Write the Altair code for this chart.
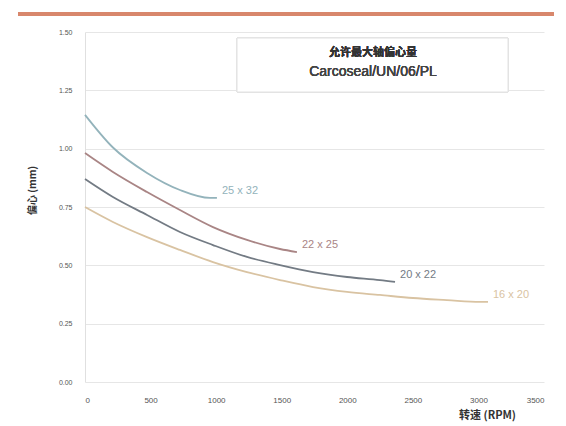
import altair as alt
import pandas as pd

series = ["25 x 32", "22 x 25", "20 x 22", "16 x 20"]
rpm_25x32 = [0, 213, 473, 724, 953, 1006]
ecc_25x32 = [1.145, 1.005, 0.896, 0.823, 0.789, 0.789]
rpm_22x25 = [0, 213, 473, 724, 976, 1235, 1487, 1616]
ecc_22x25 = [0.981, 0.90, 0.814, 0.737, 0.664, 0.609, 0.570, 0.557]
rpm_20x22 = [0, 213, 473, 724, 976, 1235, 1487, 1739, 1998, 2249, 2364]
ecc_20x22 = [0.870, 0.793, 0.716, 0.643, 0.587, 0.536, 0.501, 0.471, 0.450, 0.437, 0.429]
rpm_16x20 = [0, 213, 473, 724, 976, 1235, 1487, 1739, 1998, 2249, 2501, 2760, 3012, 3073]
ecc_16x20 = [0.750, 0.686, 0.621, 0.566, 0.514, 0.471, 0.437, 0.407, 0.386, 0.373, 0.360, 0.351, 0.343, 0.343]
line_colors = ["#93b3bb", "#a98585", "#737b84", "#d9c3a2"]
label_colors = ["#5c9fb6", "#c57a92", "#555555", "#5ea3b3"]
x_ticks = [0, 500, 1000, 1500, 2000, 2500, 3000, 3500]
y_ticks = [0, 0.25, 0.5, 0.75, 1.0, 1.25, 1.5]
title_cn = "允许最大轴偏心量"
title_en = "Carcoseal/UN/06/PL"

rows = []
for name, xs, ys in zip(series,
                        [rpm_25x32, rpm_22x25, rpm_20x22, rpm_16x20],
                        [ecc_25x32, ecc_22x25, ecc_20x22, ecc_16x20]):
    for i, (a, b) in enumerate(zip(xs, ys)):
        rows.append({"series": name, "rpm": a, "ecc": b, "last": i == len(xs) - 1})
df = pd.DataFrame(rows)
df_last = df[df["last"]]

W, H = 459, 350
FONT = "Liberation Sans"

xenc = alt.X("rpm:Q", scale=alt.Scale(domain=[0, 3500], nice=False),
             axis=alt.Axis(values=x_ticks, format="d", grid=False, domain=False, ticks=False,
                           labelPadding=14, labelFontSize=8, labelColor="#555",
                           labelFont=FONT, title="转速 (RPM)", titleFont="Noto Sans CJK SC",
                           titleFontSize=11, titleFontWeight="bold", titleColor="#333",
                           titleX=402, titleY=33, titleBaseline="middle"))
yenc = alt.Y("ecc:Q", scale=alt.Scale(domain=[0, 1.5], nice=False),
             axis=alt.Axis(values=y_ticks, format=".2f", grid=True, gridColor="#e6e6e6",
                           domain=True, domainColor="#e0e0e0", ticks=False,
                           labelPadding=13, labelFontSize=7, labelColor="#555",
                           labelFont=FONT, title="偏心 (mm)", titleFont="Noto Sans CJK SC",
                           titleFontSize=10, titleFontWeight="bold", titleColor="#333",
                           titleX=-53, titleY=158, titleBaseline="middle"))

color = alt.Color("series:N", scale=alt.Scale(domain=series, range=line_colors), legend=None)

lines = alt.Chart(df).mark_line(strokeWidth=1.8, interpolate="monotone").encode(
    x=xenc, y=yenc, color=color, order="rpm:Q")

labels = alt.Chart(df_last).mark_text(align="left", baseline="middle", dx=5, dy=-7,
                                      fontSize=11, font=FONT).encode(
    x="rpm:Q", y="ecc:Q", text="series:N",
    color=alt.Color("series:N", scale=alt.Scale(domain=series, range=label_colors), legend=None))

top_bar = alt.Chart(df_last).mark_rule(color="#d8876c", strokeWidth=4).encode(
    x=alt.value(-67), x2=alt.value(W + 30), y=alt.value(-18))

box = alt.Chart(df_last).mark_rect(fill="white", stroke="#e2e2e2", strokeWidth=1).encode(
    x=alt.value(152), x2=alt.value(423), y=alt.value(6), y2=alt.value(60))

t1 = alt.Chart(df_last).mark_text(fontSize=11, fontWeight="bold", font="Noto Sans CJK SC",
                                  color="#333", align="center", baseline="middle").encode(
    x=alt.value(288), y=alt.value(21), text=alt.value(title_cn))
t2 = alt.Chart(df_last).mark_text(fontSize=14, font=FONT, color="#444",
                                  align="center", baseline="middle").encode(
    x=alt.value(288), y=alt.value(40), text=alt.value(title_en))

chart = alt.layer(lines, labels, top_bar, box, t1, t2).properties(
    width=W, height=H,
    autosize=alt.AutoSizeParams(type="none"),
    padding={"left": 77, "top": 24, "right": 10, "bottom": 40},
    background="white",
).configure_view(stroke=None)

chart.save("out.html", embed_options={"renderer": "svg", "actions": False})
